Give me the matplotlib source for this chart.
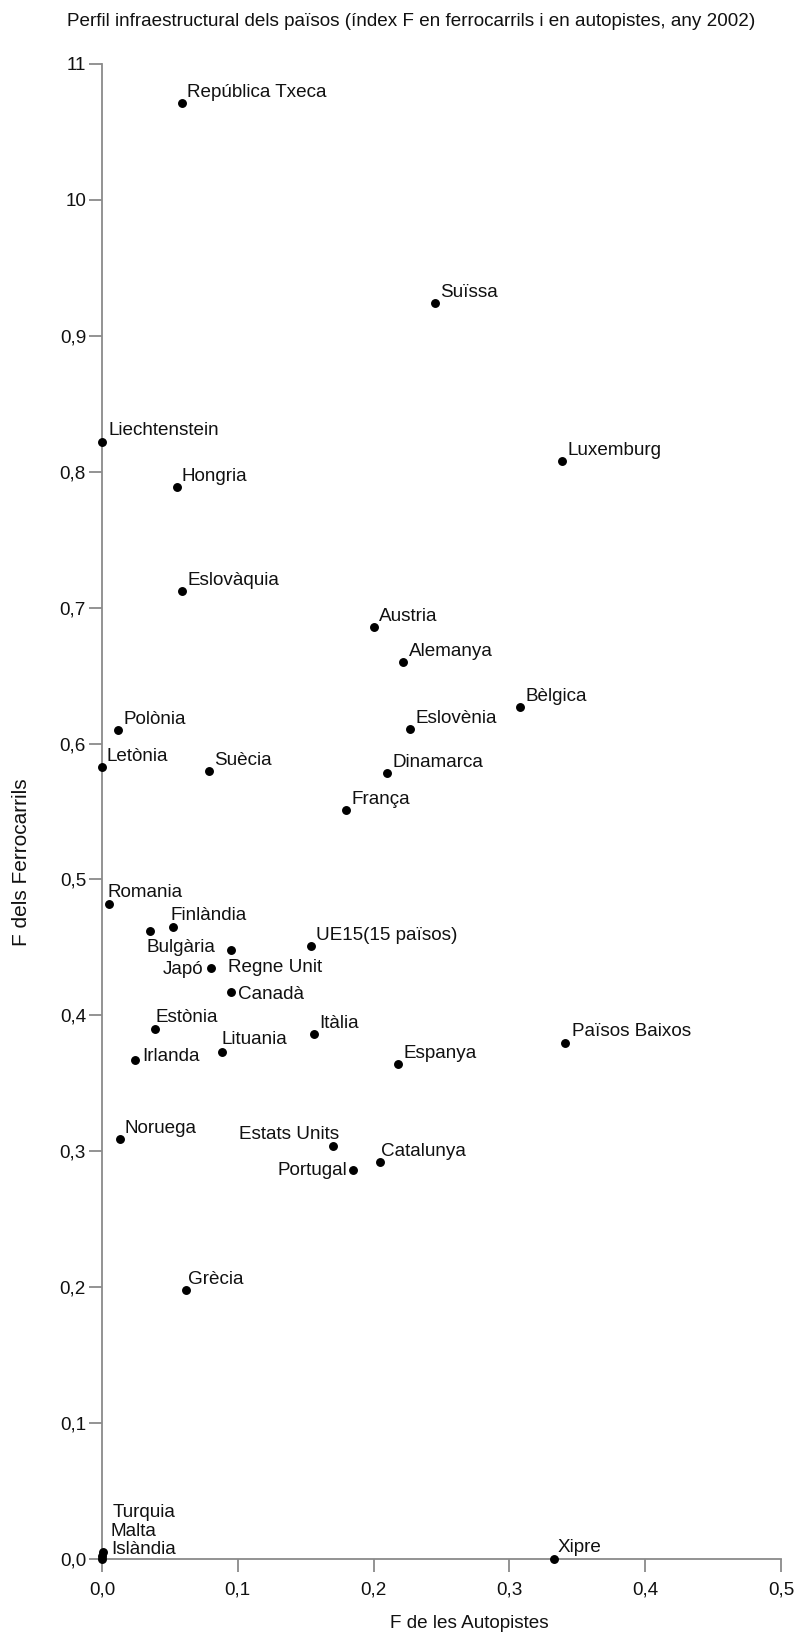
"""Scatter of the railway vs. motorway F index per country (2002)."""

import matplotlib
matplotlib.use("Agg")
import matplotlib.pyplot as plt

plt.rcParams["font.family"] = ["Liberation Sans", "DejaVu Sans"]

# F index values read per country: x = motorways, y = railways
COUNTRIES = [
    "República Txeca", "Suïssa", "Liechtenstein", "Luxemburg", "Hongria",
    "Eslovàquia", "Austria", "Alemanya", "Bèlgica", "Eslovènia", "Polònia",
    "Letònia", "Suècia", "Dinamarca", "França", "Romania", "Finlàndia",
    "Bulgària", "UE15(15 països)", "Regne Unit", "Japó", "Canadà", "Estònia",
    "Itàlia", "Lituania", "Irlanda", "Espanya", "Països Baixos", "Noruega",
    "Estats Units", "Catalunya", "Portugal", "Grècia", "Turquia", "Malta",
    "Islàndia", "Xipre",
]
F_AUTOPISTES = [
    0.059, 0.245, 0.000, 0.339, 0.055,
    0.059, 0.200, 0.222, 0.308, 0.227, 0.012,
    0.000, 0.079, 0.210, 0.180, 0.005, 0.052,
    0.035, 0.154, 0.095, 0.080, 0.095, 0.039,
    0.156, 0.088, 0.024, 0.218, 0.341, 0.013,
    0.170, 0.205, 0.185, 0.062, 0.001, 0.000,
    0.000, 0.333,
]
F_FERROCARRILS = [
    1.071, 0.924, 0.822, 0.808, 0.789,
    0.712, 0.686, 0.660, 0.627, 0.611, 0.610,
    0.583, 0.580, 0.578, 0.551, 0.482, 0.465,
    0.462, 0.451, 0.448, 0.435, 0.417, 0.390,
    0.386, 0.373, 0.367, 0.364, 0.380, 0.309,
    0.304, 0.292, 0.286, 0.198, 0.005, 0.002,
    0.000, 0.000,
]

Y_TICKS = [0.0, 0.1, 0.2, 0.3, 0.4, 0.5, 0.6, 0.7, 0.8, 0.9, 1.0, 1.1]
Y_TICK_LABELS = ["0,0", "0,1", "0,2", "0,3", "0,4", "0,5", "0,6", "0,7",
                 "0,8", "0,9", "10", "11"]
X_TICKS = [0.0, 0.1, 0.2, 0.3, 0.4, 0.5]
X_TICK_LABELS = ["0,0", "0,1", "0,2", "0,3", "0,4", "0,5"]

# label placement: (dx, dy) in pixels from the dot to the text baseline, ha
_DEFAULT_POS = (5, 6, "left")
_LABEL_POS = {
    "Liechtenstein": (7, 7, "left"),
    "Romania": (-1, 7, "left"),
    "Finlàndia": (-2, 7, "left"),
    "Bulgària": (-3, -21, "left"),
    "Regne Unit": (-3, -22, "left"),
    "Japó": (-7, -6, "right"),
    "Canadà": (7, -7, "left"),
    "Estònia": (1, 7, "left"),
    "Lituania": (0, 8, "left"),
    "Irlanda": (8, -1, "left"),
    "Estats Units": (6, 7, "right"),
    "Portugal": (-6, -5, "right"),
    "Catalunya": (1, 6, "left"),
    "Països Baixos": (7, 7, "left"),
    "Grècia": (2, 6, "left"),
    "Turquia": (9, 35, "left"),
    "Malta": (9, 20, "left"),
    "Islàndia": (9, 5, "left"),
    "Xipre": (3, 7, "left"),
}

AXIS_GREY = "#8a8a8a"
TEXT = "#111111"
PX = 72 / 100  # pixels -> points at dpi 100


def main() -> None:
    fig = plt.figure(figsize=(8, 16.48), dpi=100)
    ax = fig.add_axes([0.1275, 0.0540, 0.84875, 0.9072])

    ax.plot(F_AUTOPISTES, F_FERROCARRILS, "o", color="black", ms=5.4,
            clip_on=False, zorder=3)

    for name, x, y in zip(COUNTRIES, F_AUTOPISTES, F_FERROCARRILS):
        dx, dy, ha = _LABEL_POS.get(name, _DEFAULT_POS)
        ax.annotate(name, (x, y), xytext=(dx * PX, dy * PX),
                    textcoords="offset points", ha=ha, va="baseline",
                    fontsize=13.6, color=TEXT, annotation_clip=False)

    ax.set_xlim(0, 0.5)
    ax.set_ylim(0, 1.1)
    ax.set_xticks(X_TICKS)
    ax.set_xticklabels(X_TICK_LABELS)
    ax.set_yticks(Y_TICKS)
    ax.set_yticklabels(Y_TICK_LABELS)

    for side in ("top", "right"):
        ax.spines[side].set_visible(False)
    for side in ("left", "bottom"):
        ax.spines[side].set_color(AXIS_GREY)
        ax.spines[side].set_linewidth(1.3)
    ax.tick_params(axis="both", direction="out", length=9.5, width=1.3,
                   color=AXIS_GREY, labelsize=13.6, labelcolor=TEXT)
    ax.tick_params(axis="x", pad=7)
    ax.tick_params(axis="y", pad=2)

    fig.text(0.514, 0.987,
             "Perfil infraestructural dels països (índex F en ferrocarrils "
             "i en autopistes, any 2002)",
             ha="center", va="center", fontsize=13.6, color=TEXT)
    fig.text(0.0275, 0.477, "F dels Ferrocarrils", rotation=90,
             ha="center", va="center", fontsize=15, color=TEXT)
    fig.text(0.587, 0.0146, "F de les Autopistes", ha="center", va="center",
             fontsize=13.6, color=TEXT)

    fig.savefig("out.png", dpi=100)
    plt.close(fig)


if __name__ == "__main__":
    main()
